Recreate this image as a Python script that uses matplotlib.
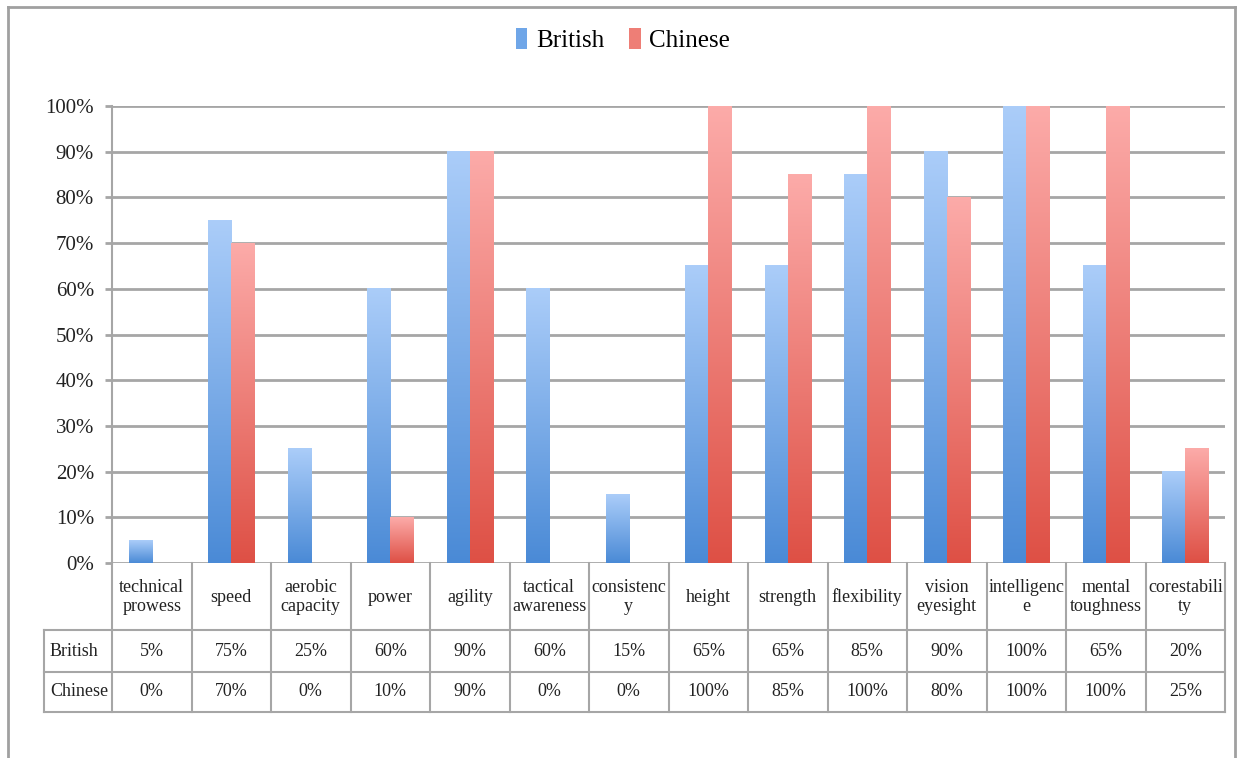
import numpy as np
import matplotlib.pyplot as plt
from matplotlib.colors import LinearSegmentedColormap
from matplotlib.lines import Line2D
from matplotlib.patches import Patch
from matplotlib.transforms import blended_transform_factory

# Datos
categories = ["technical\nprowess", "speed", "aerobic\ncapacity", "power", "agility",
              "tactical\nawareness", "consistenc\ny", "height", "strength", "flexibility",
              "vision\neyesight", "intelligenc\ne", "mental\ntoughness", "corestabili\nty"]
british = [5, 75, 25, 60, 90, 60, 15, 65, 65, 85, 90, 100, 65, 20]
chinese = [0, 70, 0, 10, 90, 0, 0, 100, 85, 100, 80, 100, 100, 25]
series_names = ["British", "Chinese"]
y_ticks = [0, 10, 20, 30, 40, 50, 60, 70, 80, 90, 100]

W, H = 1239, 758
plt.rcParams['font.family'] = ['Liberation Serif', 'DejaVu Serif']
fig = plt.figure(figsize=(W / 100, H / 100), dpi=100)

def fx(px):
    return px / W

def fy(py):
    return 1 - py / H

gray = '#a6a6a6'
ax = fig.add_axes([fx(112), fy(563), fx(1225) - fx(112), fy(106) - fy(563)])

# Barras con degradado (claro arriba, oscuro abajo)
cm_blue = LinearSegmentedColormap.from_list('b', ['#4a8ad6', '#abcdf9'])
cm_red = LinearSegmentedColormap.from_list('r', ['#de5045', '#fcaba9'])
grad = np.linspace(0, 1, 256).reshape(-1, 1)
bw = 0.29
x = np.arange(len(categories))
for vals, cmap, off in [(british, cm_blue, -bw), (chinese, cm_red, 0)]:
    for xi, v in zip(x, vals):
        if v <= 0:
            continue
        ax.imshow(grad, cmap=cmap, origin='lower', aspect='auto',
                  extent=[xi + off, xi + off + bw, 0, v], zorder=3,
                  interpolation='bilinear')

ax.set_xlim(-0.5, len(categories) - 0.5)
ax.set_ylim(0, 100)
ax.set_yticks(y_ticks)
ax.set_yticklabels([f"{t}%" for t in y_ticks], fontsize=15, color='#222222')
ax.set_xticks([])
ax.yaxis.grid(True, color=gray, lw=2, zorder=0)
ax.set_axisbelow(True)
ax.tick_params(axis='y', length=5, width=2, color=gray, pad=8)
for s in ['top', 'right', 'bottom']:
    ax.spines[s].set_visible(False)
ax.spines['left'].set_color(gray)
ax.spines['left'].set_linewidth(1.5)

# Tabla de datos
tr = blended_transform_factory(ax.transData, fig.transFigure)
lc = dict(color=gray, lw=1.5, clip_on=False)
for b in np.arange(len(categories) + 1) - 0.5:
    fig.add_artist(Line2D([b, b], [fy(563), fy(712)], transform=tr, **lc))
for yy in [630, 672, 712]:
    fig.add_artist(Line2D([fx(44), fx(1225)], [fy(yy), fy(yy)], **lc))
fig.add_artist(Line2D([fx(44), fx(44)], [fy(630), fy(712)], **lc))

for xi, c in zip(x, categories):
    fig.text(xi, fy(597), c, transform=tr, ha='center', va='center',
             fontsize=13, color='#222222', linespacing=1.1)
for row_y, name, vals in [(651, series_names[0], british), (692, series_names[1], chinese)]:
    fig.text(fx(50), fy(row_y), name, ha='left', va='center', fontsize=13, color='#222222')
    for xi, v in zip(x, vals):
        fig.text(xi, fy(row_y), f"{v}%", transform=tr, ha='center', va='center',
                 fontsize=13, color='#222222')

# Leyenda
handles = [Patch(facecolor='#6fa6e8', edgecolor='none'),
           Patch(facecolor='#ee7e76', edgecolor='none')]
fig.legend(handles, series_names, loc='center', bbox_to_anchor=(0.503, fy(40)), ncol=2,
           frameon=False, fontsize=18, handlelength=0.45, handleheight=0.9,
           handletextpad=0.35, columnspacing=1.0)

# Borde del gráfico
bc = dict(color='#a0a0a0', lw=2)
fig.add_artist(Line2D([fx(8), fx(1235)], [fy(7), fy(7)], **bc))
fig.add_artist(Line2D([fx(8), fx(8)], [fy(7), 0], **bc))
fig.add_artist(Line2D([fx(1235), fx(1235)], [fy(7), 0], **bc))

fig.savefig('out.png', dpi=100)
